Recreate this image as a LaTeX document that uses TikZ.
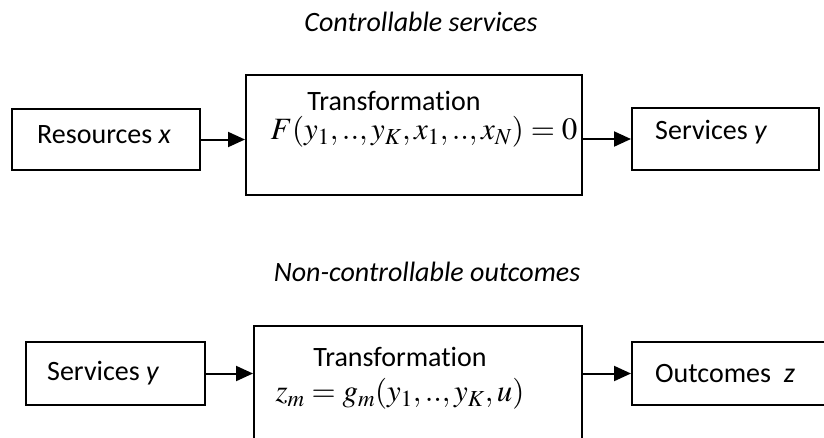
\documentclass[tikz,border=0pt]{standalone}
\usepackage[no-math]{fontspec}
\usepackage{mathptmx}
\setmainfont[Ligatures=NoCommon]{Carlito}
\usetikzlibrary{arrows.meta}

\tikzset{
  block/.style={draw,line width=2pt,inner sep=0pt},
  lbl/.style={inner sep=0pt,font=\fontsize{28}{32}\selectfont},
  ttl/.style={inner sep=0pt,font=\fontsize{28}{32}\selectfont\itshape},
  eqn/.style={inner sep=0pt,font=\fontsize{31}{36}\selectfont},
  flow/.style={line width=2pt,-{Triangle[length=17pt,width=15pt]}}
}

\begin{document}
\begin{tikzpicture}[x=1pt,y=-1pt]
\useasboundingbox (0,0) rectangle (824,437);
\clip (0,0) rectangle (824,437);

% controllable services
\node[ttl] (ttlA) at (421,22) {Controllable services};
\node[block,minimum width=188pt,minimum height=61pt] (res) at (106,139.5) {};
\node[block,minimum width=336pt,minimum height=120pt] (trA) at (414,135) {};
\node[block,minimum width=187pt,minimum height=62pt] (srvA) at (725.5,139) {};
\node[lbl,anchor=west] (resT) at (37,135) {Resources \textit{x}};
\node[lbl] (trAT) at (394,101) {Transformation};
\node[eqn] (trAF) at (424,132) {$F(y_1,..,y_K,x_1,..,x_N)=0$};
\node[lbl,anchor=west] (srvAT) at (655,132) {Services \textit{y}};
\draw[flow] (res.east) -- (res.east -| trA.west);
\draw[flow] (srvA.west -| trA.east) -- (srvA.west);

% non-controllable outcomes
\node[ttl] (ttlB) at (427,272) {Non-controllable outcomes};
\node[block,minimum width=179pt,minimum height=63pt] (srvB) at (115.5,373.5) {};
\node[block,minimum width=328pt,minimum height=134pt] (trB) at (418,393) {};
\node[block,minimum width=208pt,minimum height=63pt] (out) at (736,373.5) {};
\node[lbl,anchor=west] (srvBT) at (47,373) {Services \textit{y}};
\node[lbl] (trBT) at (400,357) {Transformation};
\node[eqn] (trBF) at (400,394) {$z_m=g_m(y_1,..,y_K,u)$};
\node[lbl,anchor=west] (outT) at (655,374) {Outcomes~ \textit{z}};
\draw[flow] (srvB.east) -- (srvB.east -| trB.west);
\draw[flow] (out.west -| trB.east) -- (out.west);
\end{tikzpicture}
\end{document}
